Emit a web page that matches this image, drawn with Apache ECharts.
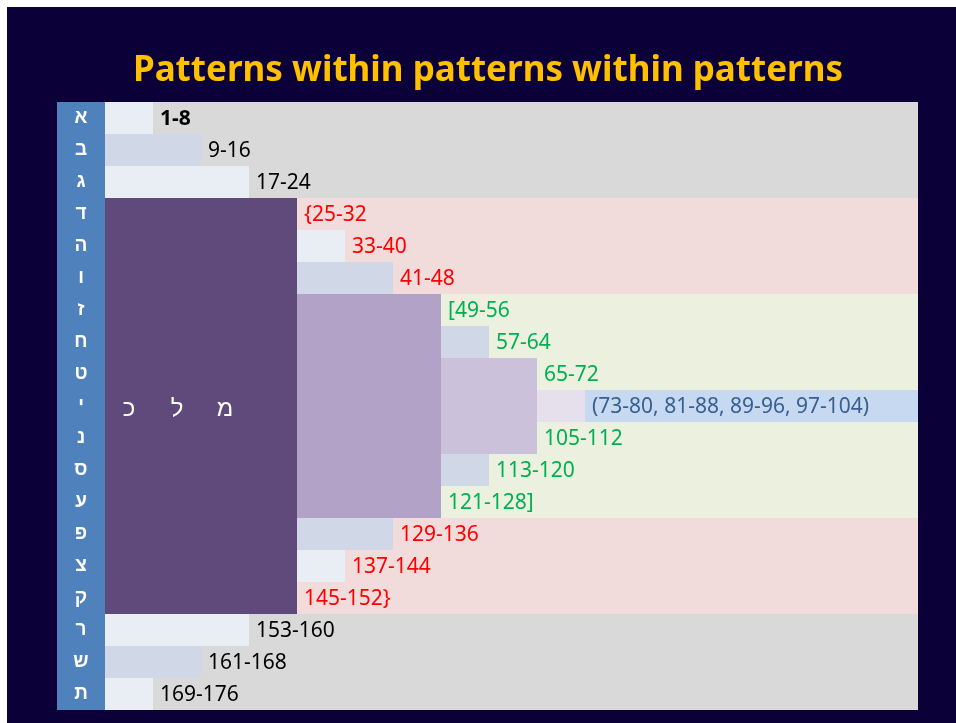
<!DOCTYPE html>
<html>
<head>
<meta charset="utf-8">
<script src="https://cdn.jsdelivr.net/npm/echarts@6/dist/echarts.min.js"></script>
<style>
html,body{margin:0;padding:0;background:#ffffff;width:956px;height:723px;overflow:hidden;}
#main{position:absolute;left:7px;top:7px;width:949px;height:716px;}
</style>
</head>
<body>
<div id="main"></div>
<script>
// ---------- data ----------
const titleText = 'Patterns within patterns within patterns';
const letters = ['א','ב','ג','ד','ה','ו','ז','ח','ט','י','נ','ס','ע','פ','צ','ק','ר','ש','ת'];
const rangeLabels = ['1-8','9-16','17-24','{25-32','33-40','41-48','[49-56','57-64','65-72',
  '(73-80, 81-88, 89-96, 97-104)','105-112','113-120','121-128]','129-136','137-144','145-152}',
  '153-160','161-168','169-176'];
// each row: where its small bar starts and how many 8-verse units long it is
const barStart  = [0,0,0,4,4,4,7,7,9,9,9,7,7,4,4,4,0,0,0];
const barLength = [1,2,3,0,1,2,0,1,0,1,0,1,0,2,1,0,3,2,1];
// background bands: [firstRow, lastRow+1]
const bandRows = [[0,3],[3,6],[6,13],[13,16],[16,19]];
const bandKind = ['outer','ring','core','ring','outer'];
// nested blocks: [xFrom, xTo, firstRow, lastRow+1]
const nestedBlocks = [[0,4,3,16],[4,7,6,13],[7,9,8,11]];
// centre band of row י
const centreBand = [10, 9, 10];
// letters written in the largest block and their x positions (units)
const blockLetters = ['כ','ל','מ'];
const blockLetterX = [0.5,1.5,2.5];
const rowKind = ['outer','outer','outer','ring','ring','ring','core','core','core','centre','core','core','core','ring','ring','ring','outer','outer','outer'];

// ---------- style ----------
const xMax = 16.9375;
const bandColor = {outer:'#D9D9D9', ring:'#F2DCDB', core:'#EBF1DE'};
const textColor = {outer:'#000000', ring:'#FF0000', core:'#00B050', centre:'#376092'};
const blockColor = ['#604A7B','#B3A2C7','#CCC1DA'];
const barColorFor = function(i){
  if (i === 9) return '#E5E0EC';
  if (barLength[i] === 2 || i === 7 || i === 11) return '#D0D8E8';
  return '#E9EDF4';
};
const FONT = '"Noto Sans", "Open Sans", "DejaVu Sans", sans-serif';
const HEB = '"Liberation Sans", "DejaVu Sans", sans-serif';

// ---------- build rectangles ----------
const rects = [];
rects.push({value:[-1,0,0,19], itemStyle:{color:'#4F81BD'}});
bandRows.forEach(function(b,i){
  rects.push({value:[0,xMax,b[0],b[1]], itemStyle:{color:bandColor[bandKind[i]]}});
});
rects.push({value:[centreBand[0],xMax,centreBand[1],centreBand[2]], itemStyle:{color:'#C6D9F1'}});
nestedBlocks.forEach(function(b,i){
  rects.push({value:[b[0],b[1],b[2],b[3]], itemStyle:{color:blockColor[i]}});
});
barLength.forEach(function(len,i){
  if (len > 0) rects.push({value:[barStart[i],barStart[i]+len,i,i+1], itemStyle:{color:barColorFor(i)}});
});

const labelData = rangeLabels.map(function(t,i){ return [barStart[i]+barLength[i], i+0.5, i]; });
const letterData = letters.map(function(t,i){ return [-0.5, i+0.5, i]; });
const blockLetterData = blockLetters.map(function(t,i){ return [blockLetterX[i], 9.5, i]; });

const chart = echarts.init(document.getElementById('main'), null, {renderer:'canvas'});
chart.setOption({
  backgroundColor:'#0B0038',
  animation:false,
  title:{text:titleText, left:476, top:42, textAlign:'center',
    textStyle:{color:'#FFC000', fontSize:35, fontWeight:'bold', fontFamily:FONT}},
  grid:{left:50, top:95, width:861, height:608},
  xAxis:{type:'value', min:-1, max:xMax, show:false},
  yAxis:{type:'value', min:0, max:19, inverse:true, show:false},
  series:[
    {type:'custom', coordinateSystem:'cartesian2d', data:rects,
      encode:{x:[0,1], y:[2,3]},
      renderItem:function(params, api){
        const p0 = api.coord([api.value(0), api.value(2)]);
        const p1 = api.coord([api.value(1), api.value(3)]);
        const x0 = Math.round(p0[0]), y0 = Math.round(p0[1]);
        const x1 = Math.round(p1[0]), y1 = Math.round(p1[1]);
        return {type:'rect', shape:{x:x0, y:y0, width:x1-x0, height:y1-y0},
          style:{fill:api.visual('color')}};
      }},
    {type:'custom', coordinateSystem:'cartesian2d', data:labelData, z:5,
      renderItem:function(params, api){
        const i = api.value(2);
        const p = api.coord([api.value(0), api.value(1)]);
        return {type:'text', x:p[0]+7, y:p[1]+1,
          style:{text:rangeLabels[i], fill:textColor[rowKind[i]],
            font:(i===0?'bold ':'')+'21px '+FONT, align:'left', verticalAlign:'middle'}};
      }},
    {type:'custom', coordinateSystem:'cartesian2d', data:letterData, z:5,
      renderItem:function(params, api){
        const i = api.value(2);
        const p = api.coord([api.value(0), api.value(1)]);
        return {type:'text', x:p[0], y:p[1],
          style:{text:letters[i], fill:'#FFFFFF', font:'bold 19px '+HEB,
            align:'center', verticalAlign:'middle'}};
      }},
    {type:'custom', coordinateSystem:'cartesian2d', data:blockLetterData, z:5,
      renderItem:function(params, api){
        const i = api.value(2);
        const p = api.coord([api.value(0), api.value(1)]);
        return {type:'text', x:p[0], y:p[1]+3,
          style:{text:blockLetters[i], fill:'#FFFFFF', font:'24px '+HEB,
            align:'center', verticalAlign:'middle'}};
      }}
  ]
});
</script>
</body>
</html>
